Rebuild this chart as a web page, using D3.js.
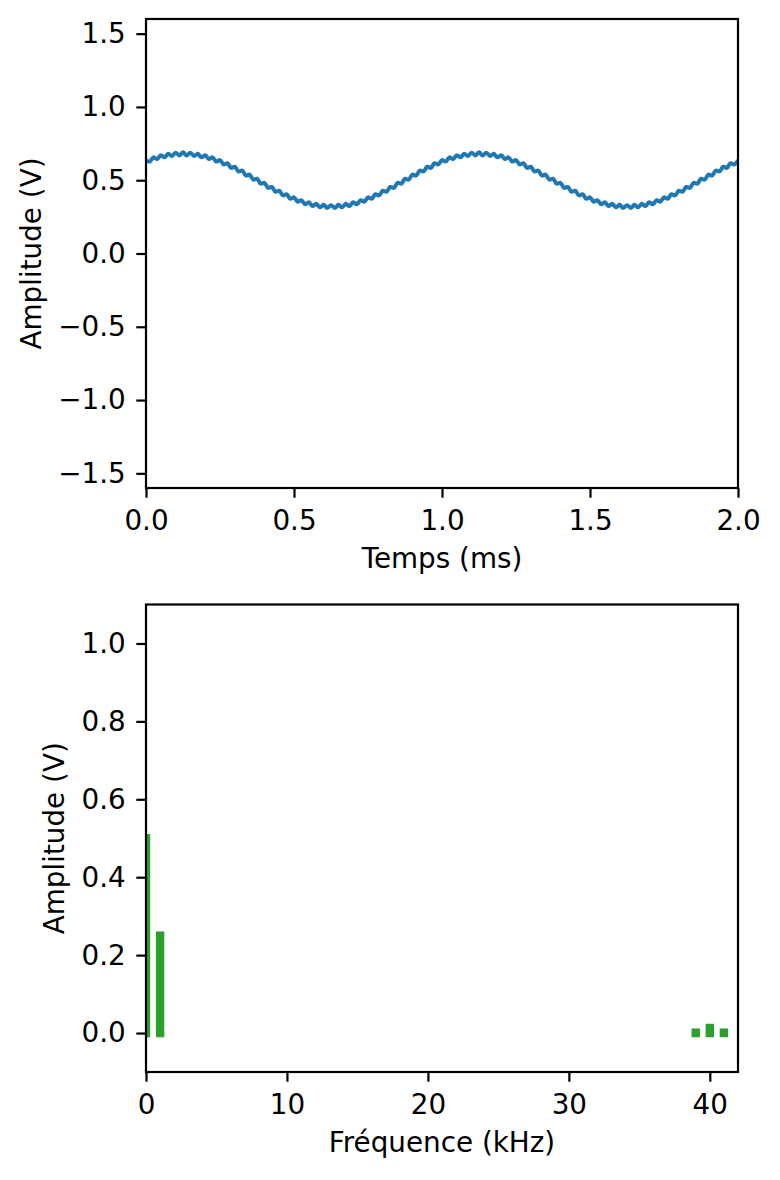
<!DOCTYPE html>
<html>

<head>
    <meta charset="UTF-8">
    <title>Signal et spectre</title>
    <script src="https://d3js.org/d3.v7.min.js"></script>
    <style>
        body { margin: 0; background: #fff; }
        text { font-family: "DejaVu Sans", sans-serif; }
    </style>
</head>

<body>
    <script>
        // signal (V), one sample every 0.0125 ms from 0 to 2 ms
        const timeStep = 0.0125;
        const signalValues = [
            0.637, 0.627, 0.656, 0.644, 0.670, 0.656, 0.681, 0.665, 0.688, 0.669,
            0.690, 0.669, 0.688, 0.665, 0.681, 0.656, 0.670, 0.644, 0.656, 0.627,
            0.637, 0.607, 0.616, 0.584, 0.592, 0.559, 0.566, 0.532, 0.538, 0.504,
            0.510, 0.476, 0.482, 0.448, 0.454, 0.421, 0.428, 0.396, 0.404, 0.373,
            0.383, 0.353, 0.364, 0.336, 0.350, 0.324, 0.339, 0.315, 0.332, 0.311,
            0.330, 0.311, 0.332, 0.315, 0.339, 0.324, 0.350, 0.336, 0.364, 0.353,
            0.383, 0.373, 0.404, 0.396, 0.428, 0.421, 0.454, 0.448, 0.482, 0.476,
            0.510, 0.504, 0.538, 0.532, 0.566, 0.559, 0.592, 0.584, 0.616, 0.607,
            0.637, 0.627, 0.656, 0.644, 0.670, 0.656, 0.681, 0.665, 0.688, 0.669,
            0.690, 0.669, 0.688, 0.665, 0.681, 0.656, 0.670, 0.644, 0.656, 0.627,
            0.637, 0.607, 0.616, 0.584, 0.592, 0.559, 0.566, 0.532, 0.538, 0.504,
            0.510, 0.476, 0.482, 0.448, 0.454, 0.421, 0.428, 0.396, 0.404, 0.373,
            0.383, 0.353, 0.364, 0.336, 0.350, 0.324, 0.339, 0.315, 0.332, 0.311,
            0.330, 0.311, 0.332, 0.315, 0.339, 0.324, 0.350, 0.336, 0.364, 0.353,
            0.383, 0.373, 0.404, 0.396, 0.428, 0.421, 0.454, 0.448, 0.482, 0.476,
            0.510, 0.504, 0.538, 0.532, 0.566, 0.559, 0.592, 0.584, 0.616, 0.607,
            0.637
        ];

        // spectrum
        const frequencies = [0, 1, 39, 40, 41];      // kHz
        const amplitudes = [0.50, 0.25, 0.001, 0.013, 0.001]; // V

        const timeTicks = [0, 0.5, 1, 1.5, 2];
        const signalTicks = [-1.5, -1, -0.5, 0, 0.5, 1, 1.5];
        const freqTicks = [0, 10, 20, 30, 40];
        const ampTicks = [0, 0.2, 0.4, 0.6, 0.8, 1.0];

        const width = 780, height = 1180;
        const fontSize = 27.8;
        const left = 146, right = 738;

        const svg = d3.select("body").append("svg")
            .attr("width", width).attr("height", height)
            .style("font-size", fontSize + "px");

        function makeAxes(top, bottom, xScale, yScale, xTicks, yTicks, xFmt, yFmt, xLabel, yLabel, labelX, clipId) {
            const g = svg.append("g");

            svg.append("clipPath").attr("id", clipId)
                .append("rect")
                .attr("x", left).attr("y", top)
                .attr("width", right - left).attr("height", bottom - top);

            const xAxis = g.append("g")
                .attr("transform", `translate(0,${bottom})`)
                .call(d3.axisBottom(xScale).tickValues(xTicks).tickFormat(xFmt)
                    .tickSize(9.7).tickSizeOuter(0).tickPadding(13));
            const yAxis = g.append("g")
                .attr("transform", `translate(${left},0)`)
                .call(d3.axisLeft(yScale).tickValues(yTicks).tickFormat(yFmt)
                    .tickSize(9.7).tickSizeOuter(0).tickPadding(10.5));

            [xAxis, yAxis].forEach(a => {
                a.select(".domain").remove();
                a.selectAll(".tick line").attr("stroke", "#000").attr("stroke-width", 2.2);
                a.selectAll(".tick text").attr("fill", "#000")
                    .style("font-size", fontSize + "px")
                    .style("font-family", "'DejaVu Sans', sans-serif");
            });

            g.append("text")
                .attr("x", (left + right) / 2).attr("y", bottom + 80)
                .attr("text-anchor", "middle")
                .text(xLabel);

            g.append("text")
                .attr("transform", `translate(${labelX},${(top + bottom) / 2}) rotate(-90)`)
                .attr("text-anchor", "middle")
                .text(yLabel);

            return g;
        }

        function drawFrame(top, bottom) {
            svg.append("rect")
                .attr("x", left).attr("y", top)
                .attr("width", right - left).attr("height", bottom - top)
                .attr("fill", "none").attr("stroke", "#000").attr("stroke-width", 2.2);
        }

        // --- top: signal vs time
        const top1 = 19, bottom1 = 488;
        const xTime = d3.scaleLinear().domain([0, 2]).range([left, right]);
        const ySig = d3.scaleLinear().domain([-1.6, 1.6]).range([bottom1, top1]);

        makeAxes(top1, bottom1, xTime, ySig, timeTicks, signalTicks,
            d3.format(".1f"), d3.format(".1f"), "Temps (ms)", "Amplitude (V)", 40.5, "clip1");

        const line = d3.line()
            .x((d, i) => xTime(i * timeStep))
            .y(d => ySig(d))
            .curve(d3.curveCatmullRom);

        svg.append("path")
            .datum(signalValues)
            .attr("clip-path", "url(#clip1)")
            .attr("d", line)
            .attr("fill", "none")
            .attr("stroke", "#1f77b4")
            .attr("stroke-width", 4)
            .attr("stroke-linejoin", "round");

        drawFrame(top1, bottom1);

        // --- bottom: spectrum
        const top2 = 604.5, bottom2 = 1072;
        const xFreq = d3.scaleLinear().domain([0, 42]).range([left, right]);
        const yAmp = d3.scaleLinear().domain([-0.1, 1.1]).range([bottom2, top2]);

        makeAxes(top2, bottom2, xFreq, yAmp, freqTicks, ampTicks,
            d3.format("d"), d3.format(".1f"), "Fréquence (kHz)", "Amplitude (V)", 63.5, "clip2");

        const barW = 8.4; // thick vlines with square caps
        const spectrum = frequencies.map((f, i) => ({ f: f, a: amplitudes[i] }));

        svg.append("g")
            .attr("clip-path", "url(#clip2)")
            .selectAll("rect")
            .data(spectrum).enter().append("rect")
            .attr("x", d => xFreq(d.f) - barW / 2)
            .attr("y", d => yAmp(d.a) - barW / 2)
            .attr("width", barW)
            .attr("height", d => yAmp(0) - yAmp(d.a) + barW)
            .attr("fill", "#2ca02c");

        drawFrame(top2, bottom2);
    </script>
</body>

</html>
